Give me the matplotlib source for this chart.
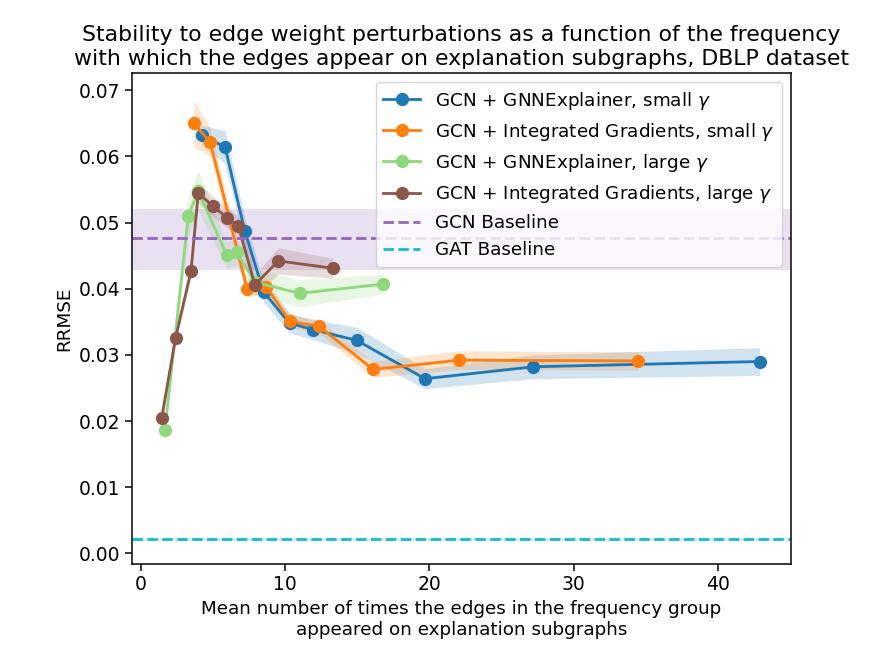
import matplotlib
matplotlib.use("Agg")
import matplotlib.pyplot as plt
import numpy as np

# Data
blue_x = [4.2, 5.83, 7.2, 8.5, 10.3, 11.95, 14.96, 19.7, 27.2, 42.9]
blue_y = [0.0632, 0.0614, 0.0487, 0.0395, 0.0348, 0.0338, 0.0322, 0.0264, 0.0282, 0.0290]
blue_err = [0.0015, 0.0025, 0.0020, 0.0015, 0.0015, 0.0015, 0.0020, 0.0015, 0.0018, 0.0021]

orange_x = [3.65, 4.79, 7.35, 8.7, 10.3, 12.35, 16.1, 22.05, 34.5]
orange_y = [0.0650, 0.0622, 0.0400, 0.0403, 0.0351, 0.0343, 0.0278, 0.0292, 0.0291]
orange_err = [0.0035, 0.0022, 0.0012, 0.0012, 0.0010, 0.0010, 0.0012, 0.0014, 0.0014]

green_x = [1.66, 3.28, 3.97, 5.94, 6.63, 7.9, 11.0, 16.8]
green_y = [0.0187, 0.0510, 0.0548, 0.0451, 0.0456, 0.0410, 0.0393, 0.0407]
green_err = [0.0005, 0.0030, 0.0030, 0.0020, 0.0020, 0.0020, 0.0020, 0.0015]

brown_x = [1.43, 2.4, 3.47, 3.97, 4.97, 5.99, 6.75, 7.9, 9.52, 13.3]
brown_y = [0.0204, 0.0326, 0.0427, 0.0545, 0.0525, 0.0507, 0.0495, 0.0406, 0.0442, 0.0431]
brown_err = [0.0005, 0.0008, 0.0010, 0.0015, 0.0015, 0.0015, 0.0015, 0.0015, 0.0020, 0.0015]

gcn_base, gcn_lo, gcn_hi = 0.0476, 0.0428, 0.0521
gat_base, gat_lo, gat_hi = 0.0021, 0.0019, 0.0023

labels = ["GCN + GNNExplainer, small $\\gamma$",
          "GCN + Integrated Gradients, small $\\gamma$",
          "GCN + GNNExplainer, large $\\gamma$",
          "GCN + Integrated Gradients, large $\\gamma$"]
colors = ["#1f77b4", "#ff7f0e", "#8fd97c", "#8c564b"]

S = 1.35
plt.rcParams["font.size"] = 10 * S

fig = plt.figure(figsize=(8.71, 6.49), dpi=100)
ax = fig.add_axes([0.1512, 0.131, 0.7566, 0.7565])

series = [(blue_x, blue_y, blue_err), (orange_x, orange_y, orange_err),
          (green_x, green_y, green_err), (brown_x, brown_y, brown_err)]
for (x, y, e), lab, c in zip(series, labels, colors):
    x = np.array(x); y = np.array(y); e = np.array(e)
    ax.plot(x, y, "-o", color=c, label=lab, lw=1.5 * S, ms=6.3 * S)
    ax.fill_between(x, y - e, y + e, color=c, alpha=0.2, lw=0)

ax.axhline(gcn_base, color="#9467bd", ls="--", lw=1.5 * S, label="GCN Baseline")
ax.axhspan(gcn_lo, gcn_hi, color="#9467bd", alpha=0.2, lw=0)
ax.axhline(gat_base, color="#17becf", ls="--", lw=1.5 * S, label="GAT Baseline")
ax.axhspan(gat_lo, gat_hi, color="#17becf", alpha=0.2, lw=0)

ax.set_xlim(-0.645, 45.06)
ax.set_ylim(-0.0016, 0.0726)
ax.set_xticks([0, 10, 20, 30, 40])
ax.set_yticks([0.0, 0.01, 0.02, 0.03, 0.04, 0.05, 0.06, 0.07])
ax.set_yticklabels(["0.00", "0.01", "0.02", "0.03", "0.04", "0.05", "0.06", "0.07"])
ax.tick_params(length=3.5 * S, width=0.8 * S)
for sp in ax.spines.values():
    sp.set_linewidth(0.8 * S)

ax.set_title("Stability to edge weight perturbations as a function of the frequency\n"
             "with which the edges appear on explanation subgraphs, DBLP dataset",
             fontsize=15.8)
ax.set_xlabel("Mean number of times the edges in the frequency group\n"
              "appeared on explanation subgraphs", fontsize=13.2)
ax.set_ylabel("RRMSE", fontsize=13.2)
ax.legend(loc="upper right", fontsize=13.2)

fig.savefig("out.png", dpi=100)
